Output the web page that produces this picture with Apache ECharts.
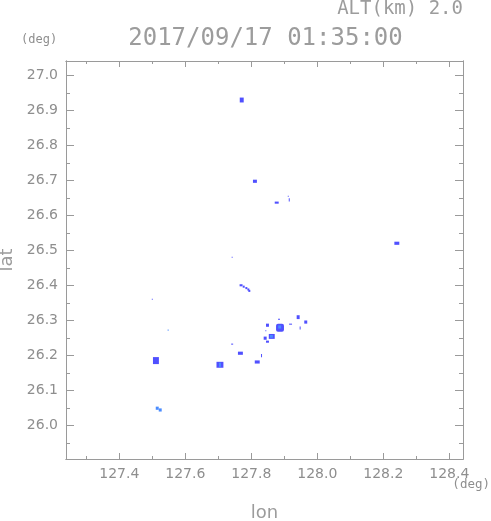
<!DOCTYPE html>
<html><head><meta charset="utf-8">
<script src="https://cdn.jsdelivr.net/npm/echarts@6/dist/echarts.min.js"></script>
<style>html,body{margin:0;padding:0;background:#fff}#c{width:491px;height:521px}</style>
</head><body><div id="c"></div>
<script>
// ---- texts ----
const titleText = '2017/09/17 01:35:00';
const altText = 'ALT(km) 2.0';
const unitText = '(deg)';
const xName = 'lon';
const yName = 'lat';

// ---- axis ticks ----
const lonRange = [127.2385, 128.4415];
const latRange = [25.905, 27.0414];
const lonTicks = [127.4, 127.6, 127.8, 128.0, 128.2, 128.4];
const lonMinorTicks = [127.3, 127.5, 127.7, 127.9, 128.1, 128.3];
const latTicks = [26.0, 26.1, 26.2, 26.3, 26.4, 26.5, 26.6, 26.7, 26.8, 26.9, 27.0];
const latMinorTicks = [25.95, 26.05, 26.15, 26.25, 26.35, 26.45, 26.55, 26.65, 26.75, 26.85, 26.95];

// ---- echo cells: centre lon/lat, extent (deg), level ----
const echoLon  = [127.771,127.811,127.877,127.912,127.915,128.241,127.742,
                  127.769,127.777,127.785,127.791,127.794,
                  127.500,127.548,127.511,127.705,127.705,127.767,127.742,127.818,127.831,
                  127.515,127.524,
                  127.887,127.886,127.862,127.861,127.842,127.849,127.849,127.844,127.884,127.919,127.942,127.965,127.948];
const echoLat  = [26.930,26.698,26.637,26.655,26.645,26.521,26.481,
                  26.401,26.397,26.393,26.389,26.385,
                  26.361,26.273,26.186,26.174,26.174,26.207,26.233,26.182,26.200,
                  26.050,26.045,
                  26.280,26.282,26.255,26.255,26.250,26.240,26.287,26.271,26.304,26.290,26.310,26.296,26.279];
const echoDLon = [0.012,0.012,0.012,0.003,0.003,0.015,0.003,
                  0.009,0.006,0.006,0.006,0.006,
                  0.003,0.003,0.018,0.021,0.006,0.015,0.006,0.015,0.003,
                  0.009,0.009,
                  0.024,0.009,0.018,0.009,0.009,0.009,0.009,0.003,0.006,0.009,0.009,0.009,0.003];
const echoDLat = [0.014,0.009,0.006,0.003,0.009,0.009,0.003,
                  0.006,0.006,0.006,0.006,0.006,
                  0.003,0.003,0.020,0.017,0.012,0.009,0.003,0.009,0.009,
                  0.009,0.009,
                  0.023,0.009,0.014,0.008,0.009,0.006,0.009,0.003,0.003,0.003,0.011,0.009,0.009];
const echoLevel = [1,1,1,1,1,1,1,
                   1,1,1,1,1,
                   1,2,1,1,2,1,1,1,1,
                   2,2,
                   1,2,1,2,1,1,1,1,1,1,1,1,1];
const levelColors = {1: '#5050ff', 2: '#4a8cff'};

const textColor = '#8e8e8e';
const bigTextColor = '#9c9c9c';
const axisColor = '#9a9a9a';
const fmt = v => Number(v).toFixed(1);

const echoData = echoLon.map((v, i) => [v, echoLat[i], echoDLon[i], echoDLat[i], echoLevel[i]]);

function axisCommon(extra) {
  return Object.assign({
    type: 'value',
    splitLine: {show: false},
    axisLine: {show: true, onZero: false, lineStyle: {color: axisColor, width: 1}},
  }, extra);
}

const gridBox = {left: 66, top: 61, width: 397, height: 398, containLabel: false, outerBoundsMode: 'none'};

const chart = echarts.init(document.getElementById('c'), null, {renderer: 'canvas'});
chart.setOption({
  animation: false,
  backgroundColor: '#fff',
  grid: [Object.assign({}, gridBox), Object.assign({}, gridBox)],
  xAxis: [
    axisCommon({gridIndex: 0, position: 'bottom', min: lonRange[0], max: lonRange[1],
      axisTick: {inside: true, length: 6, customValues: lonTicks, lineStyle: {color: axisColor}},
      axisLabel: {customValues: lonTicks, formatter: fmt, color: textColor, fontFamily: 'DejaVu Sans', fontSize: 14, margin: 8},
      name: xName, nameLocation: 'middle', nameGap: 45,
      nameTextStyle: {color: bigTextColor, fontFamily: 'DejaVu Sans', fontSize: 18}}),
    axisCommon({gridIndex: 0, position: 'top', min: lonRange[0], max: lonRange[1],
      axisTick: {inside: true, length: 6, customValues: lonTicks, lineStyle: {color: axisColor}},
      axisLabel: {show: false}}),
    axisCommon({gridIndex: 1, position: 'bottom', min: lonRange[0], max: lonRange[1],
      axisTick: {inside: true, length: 3, customValues: lonMinorTicks, lineStyle: {color: axisColor}},
      axisLabel: {show: false}}),
    axisCommon({gridIndex: 1, position: 'top', min: lonRange[0], max: lonRange[1],
      axisTick: {inside: true, length: 3, customValues: lonMinorTicks, lineStyle: {color: axisColor}},
      axisLabel: {show: false}})
  ],
  yAxis: [
    axisCommon({gridIndex: 0, position: 'left', min: latRange[0], max: latRange[1],
      axisTick: {inside: true, length: 8, customValues: latTicks, lineStyle: {color: axisColor}},
      axisLabel: {customValues: latTicks, formatter: fmt, color: textColor, fontFamily: 'DejaVu Sans', fontSize: 14, margin: 8},
      name: yName, nameLocation: 'middle', nameGap: 47, nameRotate: 90,
      nameTextStyle: {color: bigTextColor, fontFamily: 'DejaVu Sans', fontSize: 18}}),
    axisCommon({gridIndex: 0, position: 'right', min: latRange[0], max: latRange[1],
      axisTick: {inside: true, length: 8, customValues: latTicks, lineStyle: {color: axisColor}},
      axisLabel: {show: false}}),
    axisCommon({gridIndex: 1, position: 'left', min: latRange[0], max: latRange[1],
      axisTick: {inside: true, length: 4, customValues: latMinorTicks, lineStyle: {color: axisColor}},
      axisLabel: {show: false}}),
    axisCommon({gridIndex: 1, position: 'right', min: latRange[0], max: latRange[1],
      axisTick: {inside: true, length: 4, customValues: latMinorTicks, lineStyle: {color: axisColor}},
      axisLabel: {show: false}})
  ],
  graphic: [
    {type: 'text', x: 463, y: 9, style: {text: altText, font: '19px "DejaVu Sans Mono"', fill: bigTextColor,
      align: 'right', verticalAlign: 'middle', textAlign: 'right', textVerticalAlign: 'middle'}},
    {type: 'text', x: 265.5, y: 39, style: {text: titleText, font: '24px "DejaVu Sans Mono"', fill: bigTextColor,
      align: 'center', verticalAlign: 'middle', textAlign: 'center', textVerticalAlign: 'middle'}},
    {type: 'text', x: 21, y: 40, style: {text: unitText, font: '12px "DejaVu Sans Mono"', fill: textColor,
      align: 'left', verticalAlign: 'middle', textAlign: 'left', textVerticalAlign: 'middle'}},
    {type: 'text', x: 490, y: 485, style: {text: unitText, font: '12.5px "DejaVu Sans Mono"', fill: textColor,
      align: 'right', verticalAlign: 'middle', textAlign: 'right', textVerticalAlign: 'middle'}}
  ],
  series: [{
    type: 'custom',
    xAxisIndex: 0, yAxisIndex: 0,
    clip: true,
    data: echoData,
    renderItem: function (params, api) {
      const c = api.coord([api.value(0), api.value(1)]);
      const s = api.size([api.value(2), api.value(3)]);
      const w = Math.max(1, s[0]), h = Math.max(1, s[1]);
      const r = Math.min(w, h) >= 6 ? Math.min(w, h) / 4 : 0;
      return {
        type: 'rect',
        shape: {x: c[0] - w / 2, y: c[1] - h / 2, width: w, height: h, r: r},
        style: {fill: levelColors[api.value(4)]}
      };
    }
  }]
});
</script>
</body></html>
